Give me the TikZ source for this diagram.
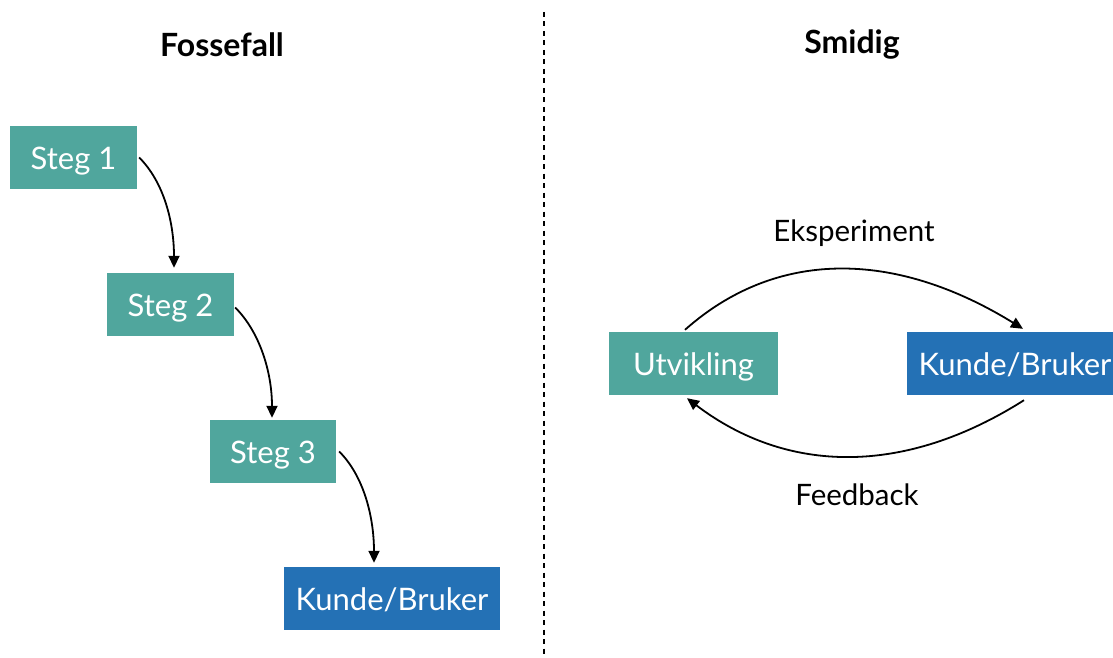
\documentclass[tikz,border=0pt]{standalone}
\usepackage{fontspec}
\setmainfont{Lato}
\usetikzlibrary{arrows.meta}
\definecolor{tealbox}{RGB}{80,166,157}
\definecolor{bluebox}{RGB}{36,113,181}
\tikzset{
  box/.style={fill=#1, text=white, inner sep=0pt, minimum height=63pt,
    text height=24pt, text depth=1pt,
    font=\fontsize{31}{36}\selectfont},
  stepbox/.style={box=tealbox},
  userbox/.style={box=bluebox},
  title/.style={font=\fontsize{32}{38}\selectfont\bfseries, text=black},
  lbl/.style={font=\fontsize{29.5}{34}\selectfont, text=black},
  arr/.style={line width=1.8pt, -{Triangle[length=12pt,width=11pt]}},
}
\begin{document}
\begin{tikzpicture}[x=1pt, y=-1pt]
  \useasboundingbox[fill=white] (0,0) rectangle (1113,658);

  % column titles
  \node[title] (tw) at (222,45) {Fossefall};
  \node[title] (ta) at (852,45) {Smidig};

  % divider
  \coordinate (dtop) at (544,12);
  \coordinate (dbot) at (544,658);
  \draw[line width=2pt, dash pattern=on 5pt off 4.5pt] (dtop) -- (dbot);

  % waterfall steps
  \node[stepbox, minimum width=127pt] (s1) at (73.5,157.5) {Steg 1};
  \node[stepbox, minimum width=127pt] (s2) at (170.5,304.5) {Steg 2};
  \node[stepbox, minimum width=126pt] (s3) at (273,451.5) {Steg 3};
  \node[userbox, minimum width=216pt] (k1) at (392,598.5) {Kunde/Bruker};

  \draw[arr] ([xshift=2pt]s1.east) .. controls +(25,25) and +(0,-45) .. ([xshift=3.5pt,yshift=5pt]s2.north);
  \draw[arr] ([xshift=1pt,yshift=-3pt]s2.east) .. controls +(25,25) and +(0,-45) .. ([xshift=-1pt,yshift=2pt]s3.north);
  \draw[arr] ([xshift=3pt]s3.east) .. controls +(25,25) and +(0,-45) .. ([xshift=-18pt,yshift=4pt]k1.north);

  % agile loop
  \node[stepbox, minimum width=169pt] (u) at (693.5,363.5) {Utvikling};
  \node[userbox, minimum width=216pt] (k2) at (1015,363.5) {Kunde/Bruker};

  \draw[arr] ([xshift=-8.5pt,yshift=2pt]u.north) .. controls +(90,-80) and +(-130,-80) .. ([xshift=8pt,yshift=3pt]k2.north);
  \draw[arr] ([xshift=9pt,yshift=-5pt]k2.south) .. controls +(-120,76) and +(100,76) .. ([xshift=-6.5pt,yshift=-3pt]u.south);

  \node[lbl] (le) at (854,233) {Eksperiment};
  \node[lbl] (lf) at (857,495) {Feedback};
\end{tikzpicture}
\end{document}
